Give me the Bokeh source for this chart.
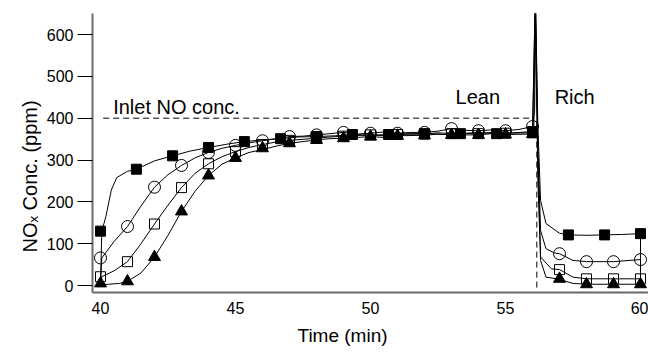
from bokeh.plotting import figure
from bokeh.models import Label, Range1d, Title
from bokeh.embed import file_html
from bokeh.resources import INLINE

# ---------------- data ----------------
x_ticks = [40, 45, 50, 55, 60]
y_ticks = [0, 100, 200, 300, 400, 500, 600]

inlet_no_ppm = 400
inlet_line_t = [40.1, 56.0]
switch_time = 56.16
switch_line_ppm = [-5, 400]

# series 1: filled squares
s1_line_t = [40.0, 40.05, 40.2, 40.4, 40.6, 41.0, 41.33, 42.0, 42.67, 43.3, 44.0, 44.7, 45.33, 46.0,
             46.67, 47.3, 48.0, 48.7, 49.33, 50.0, 50.67, 51.3, 52.0, 52.7, 53.33, 54.0, 54.67, 55.3,
             56.0, 56.05, 56.1, 56.2, 56.3, 56.5, 57.0, 57.33, 58.0, 58.67, 59.3, 60.0, 60.0]
s1_line_v = [5, 130, 165, 228, 258, 273, 278, 298, 310, 321, 330, 338, 344, 348,
             351, 355, 356, 358, 361, 359, 361, 364, 363, 361, 363, 366, 363, 365,
             368, 380, 680, 380, 203, 148, 125, 121, 120, 121, 122, 124, 62]
s1_mark_t = [40, 41.33, 42.67, 44, 45.33, 46.67, 48, 49.33, 50.67, 52, 53.33, 54.67, 56, 57.33, 58.67, 60]
s1_mark_v = [130, 278, 310, 330, 344, 351, 356, 361, 361, 363, 363, 363, 368, 121, 121, 124]

# series 2: open circles
s2_line_t = [40.0, 40.05, 40.5, 41, 41.5, 42, 42.5, 43, 43.5, 44, 44.5, 45, 45.5, 46, 46.5, 47, 47.5,
             48, 48.5, 49, 49.5, 50, 50.5, 51, 51.5, 52, 52.5, 53, 53.5, 54, 54.5, 55, 55.5, 56,
             56.08, 56.12, 56.2, 56.3, 56.5, 56.8, 57, 57.5, 58, 59, 60, 60]
s2_line_v = [3, 66, 105, 141, 190, 235, 265, 287, 305, 318, 328, 335, 341, 346, 351, 356, 357,
             360, 363, 366, 362, 364, 367, 364, 366, 366, 369, 375, 371, 370, 372, 370, 373, 380,
             420, 680, 330, 131, 88, 78, 76, 60, 57, 57, 62, 16]
s2_mark_t = [40, 41, 42, 43, 44, 45, 46, 47, 48, 49, 50, 51, 52, 53, 54, 55, 56, 57, 58, 59, 60]
s2_mark_v = [66, 141, 235, 287, 318, 335, 346, 356, 360, 366, 364, 364, 366, 375, 370, 370, 380, 76, 57, 57, 62]

# series 3: open squares
s3_line_t = [40, 40.05, 40.5, 41, 41.5, 42, 42.5, 43, 43.5, 44, 44.5, 45, 45.5, 46, 46.5, 47, 48,
             48.5, 49, 50, 50.5, 51, 52, 52.5, 53, 54, 54.5, 55, 56, 56.1, 56.2, 56.3, 56.7, 57,
             57.5, 58, 59, 60]
s3_line_v = [2, 21, 35, 57, 100, 147, 192, 234, 268, 291, 308, 320, 330, 337, 343, 347, 352,
             355, 357, 360, 358, 361, 362, 365, 363, 363, 366, 364, 365, 680, 300, 68, 40, 38,
             20, 16, 16, 16]
s3_mark_t = [40, 41, 42, 43, 44, 45, 46, 47, 48, 49, 50, 51, 52, 53, 54, 55, 56, 57, 58, 59, 60]
s3_mark_v = [21, 57, 147, 234, 291, 320, 337, 347, 352, 357, 360, 361, 362, 363, 363, 364, 365, 38, 16, 16, 16]

# series 4: filled triangles
s4_line_t = [40, 40.3, 40.7, 41, 41.5, 42, 42.5, 43, 43.5, 44, 44.5, 45, 45.5, 46, 46.5, 47, 48,
             48.5, 49, 50, 50.5, 51, 52, 52.5, 53, 54, 54.5, 55, 56, 56.1, 56.2, 56.3, 56.5, 56.9,
             57.5, 58, 59, 60]
s4_line_v = [2, 3, 5, 10, 30, 68, 120, 177, 225, 263, 290, 305, 318, 325, 333, 340, 348,
             351, 352, 356, 354, 358, 359, 362, 360, 360, 363, 361, 362, 680, 250, 60, 20, 16,
             5, 3, 3, 3]
s4_mark_t = [40, 41, 42, 43, 44, 45, 46, 47, 48, 49, 50, 51, 52, 53, 54, 55, 56, 57, 58, 59, 60]
s4_mark_v = [5, 10, 68, 177, 263, 305, 328, 340, 348, 352, 356, 358, 359, 360, 360, 361, 362, 16, 3, 3, 3]

FONT = "Liberation Sans"

p = figure(width=648, height=353, output_backend="svg", toolbar_location=None, title=None,
           x_range=Range1d(39.704, 60.296), y_range=Range1d(-16.7, 650.2),
           min_border_left=92, min_border_right=0, min_border_top=13, min_border_bottom=61)

p.xgrid.visible = False
p.ygrid.visible = False
p.outline_line_color = None
p.background_fill_color = "white"
p.border_fill_color = "white"

p.xaxis.ticker = x_ticks
p.yaxis.ticker = y_ticks
for ax in (p.xaxis[0], p.yaxis[0]):
    ax.axis_line_color = "#6a6a6a"
    ax.axis_line_width = 2
    ax.minor_tick_line_color = None
    ax.major_label_text_font = FONT
    ax.major_label_text_font_size = "16px"
    ax.major_label_text_color = "black"
p.xaxis.major_tick_line_color = None
p.xaxis.major_tick_out = 0
p.xaxis.major_tick_in = 0
p.xaxis.major_label_standoff = 9
p.yaxis.major_tick_line_color = "black"
p.yaxis.major_tick_line_width = 1
p.yaxis.major_tick_out = 15
p.yaxis.major_tick_in = 0
p.yaxis.major_label_standoff = 4

# reference dashed lines
p.line(inlet_line_t, [inlet_no_ppm, inlet_no_ppm], line_color="black", line_width=1, line_dash="6 4")
p.line([switch_time, switch_time], switch_line_ppm, line_color="black", line_width=1, line_dash="6 4")

# curves
for t, v in ((s1_line_t, s1_line_v), (s2_line_t, s2_line_v), (s3_line_t, s3_line_v), (s4_line_t, s4_line_v)):
    p.line(t, v, line_color="black", line_width=1)

p.scatter(s4_mark_t, s4_mark_v, marker="triangle", size=12, fill_color="black", line_color="black")
p.scatter(s3_mark_t, s3_mark_v, marker="square", size=10, fill_color=None, line_color="black", line_width=1)
p.scatter(s2_mark_t, s2_mark_v, marker="circle", size=12, fill_color=None, line_color="black", line_width=1)
p.scatter(s1_mark_t, s1_mark_v, marker="square", size=10, fill_color="black", line_color="black")

# annotations inside the frame
def lab(x, y, text, size):
    p.add_layout(Label(x=x, y=y, text=text, text_font=FONT, text_font_size=size, text_color="black",
                       text_align="left", text_baseline="alphabetic"))

lab(40.47, 426.2, "Inlet NO conc.", "20px")
lab(53.15, 450.1, "Lean", "20px")
lab(56.82, 450.1, "Rich", "20px")

# axis titles as side titles (positioned like the reference)
p.add_layout(Title(text="Time (min)", align="left", offset=205, text_font=FONT, text_color="black",
                   text_font_size="19px", text_font_style="normal", standoff=12), "below")
p.add_layout(Title(text="NO\u2093 Conc. (ppm)", align="left", offset=40, text_font=FONT, text_color="black",
                   text_font_size="20px", text_font_style="normal", standoff=6), "left")

open("out.html", "w").write(file_html(p, INLINE))
